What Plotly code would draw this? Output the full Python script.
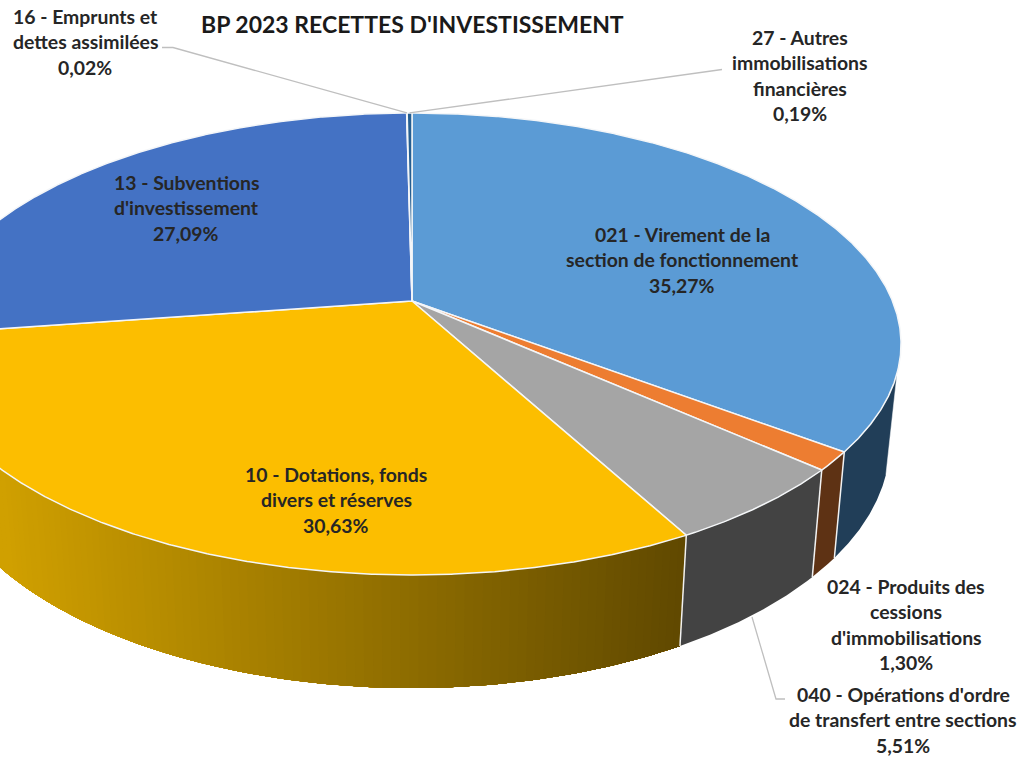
import math
import plotly.graph_objects as go

# --- data ---
categories = ["021 - Virement de la section de fonctionnement", "024 - Produits des cessions d'immobilisations",
              "040 - Opérations d'ordre de transfert entre sections", "10 - Dotations, fonds divers et réserves",
              "13 - Subventions d'investissement", "16 - Emprunts et dettes assimilées",
              "27 - Autres immobilisations financières"]
values = [35.27, 1.30, 5.51, 30.63, 27.09, 0.02, 0.19]
percent_labels = ["35,27%", "1,30%", "5,51%", "30,63%", "27,09%", "0,02%", "0,19%"]
label_lines = [
    ["021 - Virement de la", "section de fonctionnement"],
    ["024 - Produits des", "cessions", "d'immobilisations"],
    ["040 - Opérations d'ordre", "de transfert entre sections"],
    ["10 - Dotations, fonds", "divers et réserves"],
    ["13 - Subventions", "d'investissement"],
    ["16 - Emprunts et", "dettes assimilées"],
    ["27 - Autres", "immobilisations", "financières"],
]
title_text = "BP 2023 RECETTES D'INVESTISSEMENT"

# --- style / geometry ---
W, H = 1031, 758
top_colors = ["#5B9BD5", "#ED7D31", "#A5A5A5", "#FCBE00", "#4472C4", "#70AD47", "#255E91"]
side_colors = ["#213E58", "#5E3214", "#434343", None, "#27426F", "#41642A", "#16375A"]
CX, CY, A, B, K = 412.0, 301.0, 480.5, 223.0, 0.186
SX, SY, DY = 0.977, 1.057, 97.4
SIL = math.radians(107.8)
label_pos = [(682, 234), (906, 586), (903, 694), (336, 474), (186, 182), (85, 16), (800, 37)]
LINE = 25.6
FONT = "Lato"
FS = 19.4
TXT = "#262626"
LEAD = "#BFBFBF"


def top(t):
    u, v = math.sin(t), -math.cos(t)
    w = 1 - K * v
    return CX + A * u / w, CY + B * v / w


def bot(t):
    x, y = top(t)
    return CX + SX * (x - CX), CY + DY + SY * (y - CY)


def arc(t0, t1, f, step=0.25):
    n = max(2, int(abs(math.degrees(t1 - t0)) / step) + 1)
    return [f(t0 + (t1 - t0) * i / n) for i in range(n + 1)]


def poly(pts, fill, line=None, lw=0.0):
    return go.Scatter(x=[p[0] for p in pts], y=[p[1] for p in pts], mode="lines", fill="toself",
                      fillcolor=fill, line=dict(color=line or fill, width=lw), hoverinfo="skip", showlegend=False)


def seg(pts, color, lw):
    return go.Scatter(x=[p[0] for p in pts], y=[p[1] for p in pts], mode="lines",
                      line=dict(color=color, width=lw), hoverinfo="skip", showlegend=False)


total = sum(values)
edges = [0.0]
for val in values:
    edges.append(edges[-1] + val / total * 2 * math.pi)

traces = []
# outer wall
for i in range(len(values)):
    t0, t1 = max(edges[i], SIL), min(edges[i + 1], 2 * math.pi - SIL)
    if t1 <= t0:
        continue
    if side_colors[i] is not None:
        traces.append(poly(arc(t0, t1, top) + arc(t1, t0, bot), side_colors[i]))
    else:
        # gradient wall: painter's algorithm, each band reaches to the far end so no seams show
        n = 112
        for j in range(n):
            a0 = t1 + (t0 - t1) * j / n
            xm = top(a0)[0]
            f = max(0.0, min(1.0, xm / 685))
            col = "rgb(%d,%d,0)" % (208 + (96 - 208) * f, 160 + (73 - 160) * f)
            traces.append(poly(arc(a0, t0, top, 0.5) + arc(t0, a0, bot, 0.5), col))
# white edges on the wall
for i in range(1, 4):
    traces.append(seg([top(edges[i]), bot(edges[i])], "#F2F2F2", 1.5))
traces.append(seg([top(SIL), bot(SIL)], "#FFFFFF", 0.5))
# top faces
for i in range(len(values)):
    traces.append(poly([(CX, CY)] + arc(edges[i], edges[i + 1], top) + [(CX, CY)], top_colors[i], "#F4F6F8", 1.5))

# leader lines
m16 = top((edges[5] + edges[6]) / 2)
m27 = top((edges[6] + edges[7]) / 2)
traces.append(seg([(162, 47.5), (173, 47.5), m16], LEAD, 1.3))
traces.append(seg([m27, (722, 69.5)], LEAD, 1.3))
traces.append(seg([(752, 617), (776, 699), (785, 699)], LEAD, 1.3))

fig = go.Figure(traces)
anns = [dict(x=CX, y=24, text="<b>%s</b>" % title_text, showarrow=False, xanchor="center", yanchor="middle",
             font=dict(family=FONT, size=23, color="#1A1A1A"))]
for lines, pct, (x, y) in zip(label_lines, percent_labels, label_pos):
    for k, s in enumerate(lines + [pct]):
        anns.append(dict(x=x, y=y + k * LINE, text="<b>%s</b>" % s, showarrow=False, xanchor="center",
                         yanchor="middle", font=dict(family=FONT, size=FS, color=TXT)))
fig.update_layout(width=W, height=H, margin=dict(l=0, r=0, t=0, b=0), paper_bgcolor="white", plot_bgcolor="white",
                  showlegend=False, annotations=anns,
                  xaxis=dict(range=[0, W], visible=False, fixedrange=True),
                  yaxis=dict(range=[H, 0], visible=False, fixedrange=True))
fig.write_html("out.html", config={"displayModeBar": False}, post_script="document.body.style.margin='0';")
